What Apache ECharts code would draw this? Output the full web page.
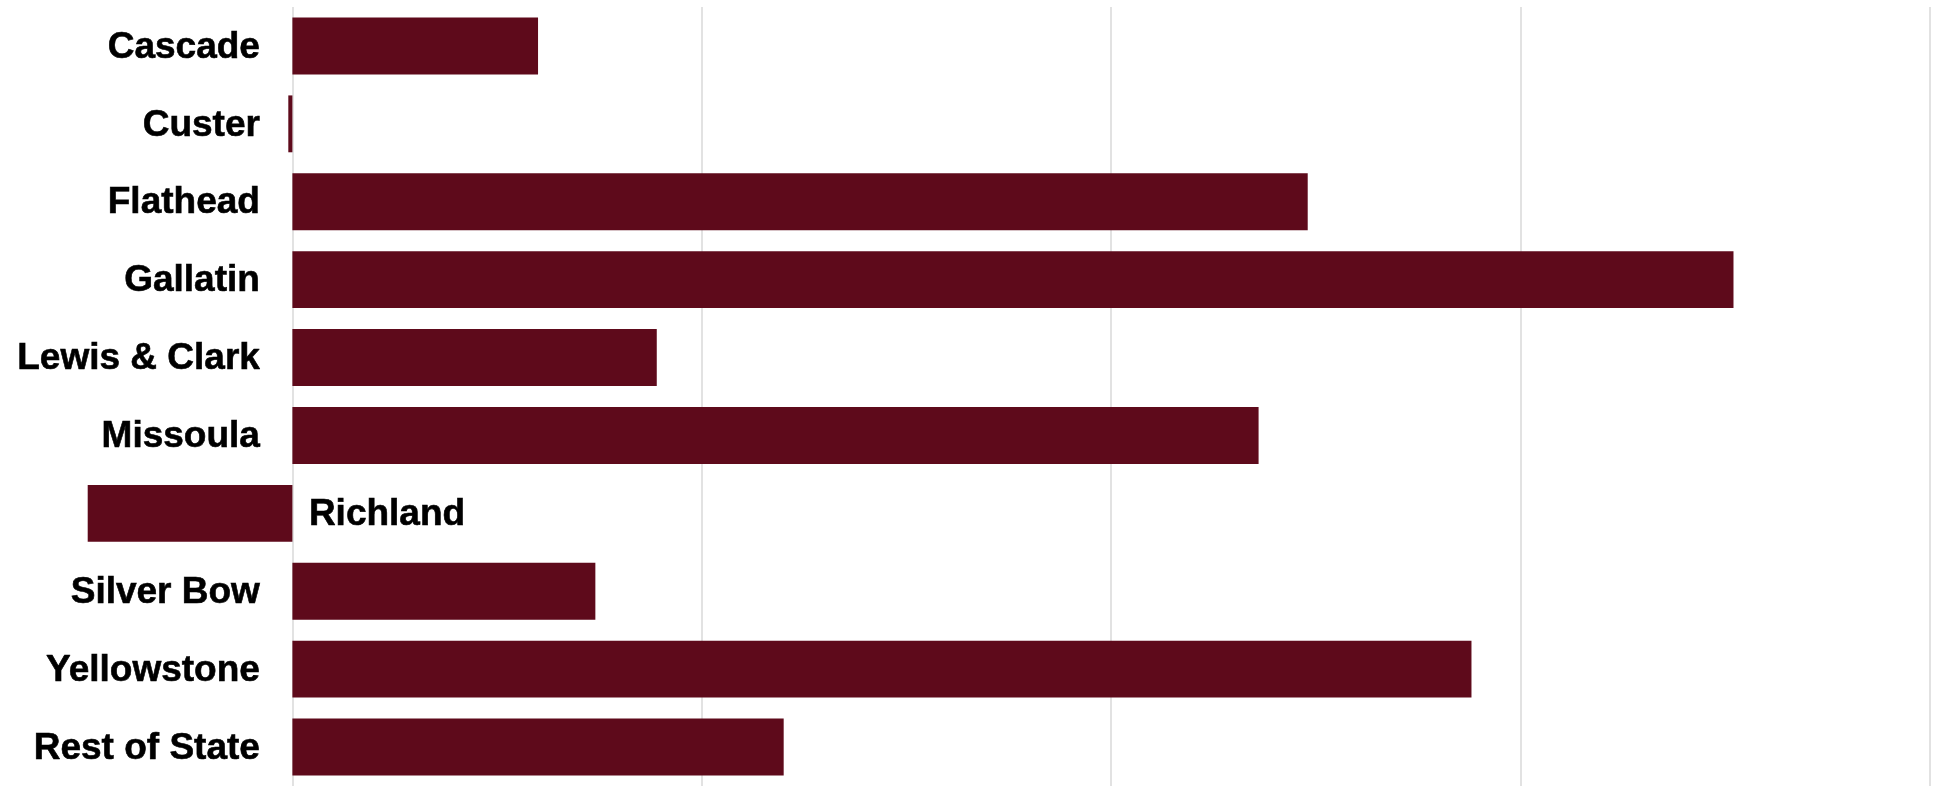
<!DOCTYPE html>
<html>
<head>
<meta charset="utf-8">
<title>Montana counties</title>
<script src="https://cdn.jsdelivr.net/npm/echarts@6/dist/echarts.min.js"></script>
<style>
  html, body { margin: 0; padding: 0; background: #ffffff; overflow: hidden; width: 1934px; height: 786px; }
  /* The value axis starts one step left of the visible area, so the canvas is shifted left */
  #chart { position: absolute; left: -117px; top: 0; width: 2051px; height: 786px; }
</style>
</head>
<body>
<div id="chart"></div>
<script>
// Counties, top to bottom
const categories = ['Cascade', 'Custer', 'Flathead', 'Gallatin', 'Lewis & Clark',
  'Missoula', 'Richland', 'Silver Bow', 'Yellowstone', 'Rest of State'];
// Value per county
const values = [0.60, -0.01, 2.48, 3.52, 0.89, 2.36, -0.50, 0.74, 2.88, 1.20];
// Value axis range and gridline step
const axisMin = -1;
const axisMax = 4;
const axisStep = 1;

const barColor = '#5e0a1b';
const gridColor = '#d9d9d9';
// Names written to the right of the zero line (beside their leftward bar)
const rightSideNames = ['Richland'];

// County names sit next to the zero line
const nameLabels = categories.map(name => {
  const right = rightSideNames.includes(name);
  return {
    value: [0, name],
    label: {
      position: right ? 'right' : 'left',
      distance: right ? 16 : 32
    }
  };
});

const chart = echarts.init(document.getElementById('chart'), null, { renderer: 'canvas' });
chart.setOption({
  animation: false,
  backgroundColor: '#ffffff',
  grid: { left: 0, top: 7, width: 2047, height: 780, containLabel: false },
  xAxis: {
    type: 'value',
    min: axisMin,
    max: axisMax,
    interval: axisStep,
    axisLabel: { show: false },
    axisLine: { show: false },
    axisTick: { show: false },
    splitLine: { show: true, lineStyle: { color: gridColor, width: 1.5 } }
  },
  yAxis: {
    type: 'category',
    inverse: true,
    data: categories,
    axisLabel: { show: false },
    axisLine: { show: false },
    axisTick: { show: false },
    splitLine: { show: false }
  },
  series: [
    {
      type: 'bar',
      data: values,
      barCategoryGap: '27%',
      itemStyle: { color: barColor },
      z: 2
    },
    {
      type: 'scatter',
      data: nameLabels,
      symbolSize: 1,
      itemStyle: { color: 'rgba(0,0,0,0)' },
      silent: true,
      z: 3,
      label: {
        show: true,
        opacity: 1,
        formatter: p => p.value[1],
        color: '#000000',
        textBorderColor: '#000000',
        textBorderWidth: 0.6,
        fontFamily: 'Liberation Sans, Arial, sans-serif',
        fontWeight: 'bold',
        fontSize: 37,
        offset: [0, 1.5]
      }
    }
  ]
});
</script>
</body>
</html>
